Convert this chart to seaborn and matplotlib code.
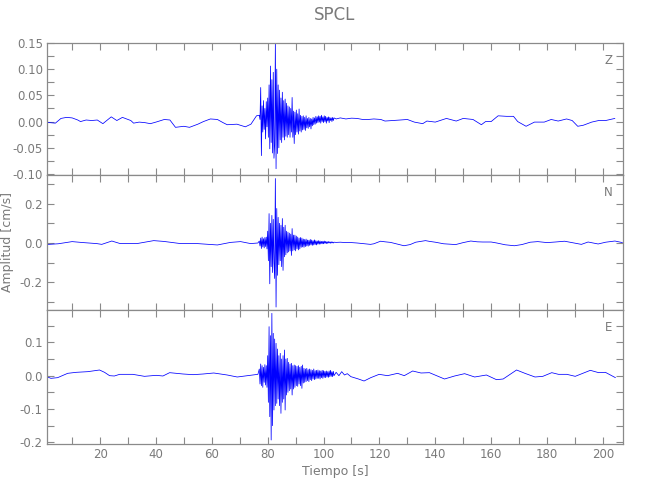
import numpy as np
import pandas as pd
import matplotlib
matplotlib.use("Agg")
import matplotlib.pyplot as plt
import seaborn as sns
from matplotlib.ticker import MultipleLocator, FixedLocator

# ---------------- data ----------------
station = "SPCL"
components = ["Z", "N", "E"]
x_label = "Tiempo [s]"
y_label = "Amplitud [cm/s]"

# strong-motion window sampled uniformly
strong_t0 = 77.0
strong_dt = 0.25

# --- Z component ---
z_pre_t = [0, 2, 4, 6, 8, 10, 12, 13, 15, 17, 19, 21, 24, 26, 28, 31, 32, 34, 36, 38, 40, 43, 45, 47, 50,
           52, 55, 57, 59.5, 62, 64, 65.5, 69, 72, 74, 76]
z_pre_v = [0.000, -0.002, -0.003, 0.006, 0.008, 0.007, 0.003, 0.000, 0.003, 0.002, 0.003, -0.004, 0.009,
           0.002, 0.008, 0.002, -0.003, -0.001, -0.002, -0.004, -0.001, 0.004, 0.003, -0.011, -0.009,
           -0.011, -0.005, 0.000, 0.005, 0.004, -0.002, -0.006, -0.005, -0.010, -0.005, 0.011]
z_strong = [0.012, 0.004, 0.065, -0.065, 0.030, -0.020, 0.040, -0.015, 0.025, -0.033, 0.038, -0.010,
            0.045, -0.030, 0.070, -0.052, 0.106, -0.040, 0.080, -0.060, 0.094, -0.070, -0.045, 0.150,
            -0.090, 0.100, -0.061, 0.070, -0.050, 0.060, -0.035, 0.045, -0.040, 0.056, -0.030, 0.040,
            -0.035, 0.043, -0.028, 0.035, -0.030, 0.030, -0.025, 0.028, -0.030, 0.025, -0.020, 0.046,
            -0.030, 0.020, -0.042, 0.018, -0.025, 0.022, -0.020, 0.015, -0.024, 0.024, -0.018, 0.012,
            -0.020, 0.010, -0.016, 0.011, -0.015, 0.008, -0.017, 0.011, -0.012, 0.006, -0.013, 0.008,
            -0.010, 0.006, -0.014, 0.005, -0.008, 0.008, -0.006, 0.007, -0.005, 0.010, -0.003, 0.009,
            -0.002, 0.011, -0.001, 0.010, -0.003, 0.012, 0.000, 0.009, -0.002, 0.011, 0.000, 0.010,
            -0.003, 0.008, 0.001, 0.009, -0.002, 0.008, 0.002, 0.007, 0.000, 0.008, 0.002, 0.007]
z_post_t = [104.5, 106, 108, 110, 112, 114, 116, 118, 120.5, 122, 125, 127.5, 130, 132.5, 135.5, 137, 140,
            144, 147.5, 150, 153.5, 156.5, 158, 160, 162.5, 165.5, 168, 169.5, 172.5, 175.5, 179, 181.5,
            184, 187, 189, 191, 193, 196, 198.5, 201, 204.3]
z_post_v = [0.005, 0.007, 0.005, 0.0065, 0.006, 0.004, 0.004, 0.005, 0.004, 0.001, 0.002, 0.003, 0.004,
            -0.001, -0.004, 0.001, -0.001, 0.006, 0.001, 0.006, 0.004, -0.006, 0.000, 0.000, 0.011, 0.010,
            0.010, 0.000, -0.009, -0.001, -0.001, 0.004, 0.001, 0.005, 0.002, -0.009, -0.007, -0.001,
            0.002, 0.002, 0.006]

# --- N component ---
n_pre_t = [0, 1.5, 5, 10, 14, 18.8, 20.6, 24.2, 27.2, 30, 33.2, 36, 39.2, 42.8, 46, 48.8, 54.8, 58, 62,
           66.7, 70.3, 73.9, 76.5]
n_pre_v = [-0.003, -0.007, -0.004, 0.007, 0.002, -0.003, -0.007, 0.010, -0.003, -0.002, -0.003, 0.004,
           0.012, 0.008, 0.002, -0.003, -0.003, -0.006, -0.010, 0.003, 0.007, -0.003, 0.000]
n_strong = [0.010, -0.015, 0.025, -0.028, 0.030, -0.020, 0.022, -0.025, 0.028, -0.018, 0.030, -0.030,
            0.060, -0.090, 0.149, -0.207, 0.100, -0.120, 0.140, -0.150, 0.120, -0.100, -0.180, 0.327,
            -0.325, 0.175, -0.164, 0.130, -0.110, 0.100, -0.090, 0.090, -0.120, 0.124, -0.139, 0.080,
            -0.070, 0.090, -0.060, 0.060, -0.050, 0.055, -0.045, 0.050, -0.040, 0.045, -0.063, 0.073,
            -0.040, 0.040, -0.035, 0.040, -0.040, 0.035, -0.030, 0.030, -0.035, 0.025, -0.030, 0.028,
            -0.022, 0.025, -0.020, 0.020, -0.022, 0.018, -0.018, 0.020, -0.015, 0.015, -0.016, 0.014,
            -0.012, 0.018, -0.010, 0.015, -0.012, 0.012, -0.010, 0.016, -0.008, 0.012, -0.010, 0.010,
            -0.006, 0.012, -0.006, 0.010, -0.005, 0.008, -0.004, 0.009, -0.004, 0.010, -0.002, 0.008,
            -0.003, 0.007, -0.002, 0.007, 0.000, 0.006, -0.001, 0.006, 0.000, 0.005, 0.000, 0.004]
n_post_t = [104.5, 106, 108, 110, 112, 114, 116.8, 118, 120.4, 122, 124, 126, 128.8, 131, 133, 136.5, 138,
            140, 143, 147.3, 150, 152.7, 155, 157, 160, 162, 165, 168.3, 171, 174, 176.7, 180, 183, 186.3,
            189, 192.3, 194.7, 198.3, 201, 204.3, 207]
n_post_v = [0.003, 0.004, 0.002, 0.002, 0.000, -0.003, -0.007, -0.004, 0.009, 0.006, 0.003, -0.004,
            -0.014, -0.008, 0.004, 0.012, 0.008, 0.004, -0.004, -0.008, 0.002, 0.010, 0.006, 0.005, 0.005,
            0.000, -0.009, -0.014, -0.008, 0.004, 0.007, 0.002, 0.005, 0.009, 0.002, -0.007, 0.005, -0.005,
            0.004, 0.010, 0.002]

# --- E component ---
e_pre_t = [0, 2.4, 4.8, 8.4, 11.4, 15.6, 19.8, 21.6, 23.4, 25.1, 27, 31.7, 35.9, 40.1, 42.5, 44.9, 49.7,
           53.3, 56.9, 60.7, 65.5, 69.1, 73.9, 76.5]
e_pre_v = [0.000, -0.008, -0.006, 0.007, 0.010, 0.012, 0.017, 0.010, 0.000, -0.001, 0.004, 0.004, -0.002,
           0.001, -0.001, 0.009, 0.005, 0.003, 0.005, 0.008, 0.002, -0.004, 0.001, 0.004]
e_strong = [0.020, -0.025, 0.035, -0.030, 0.030, -0.035, 0.025, -0.020, 0.033, -0.028, 0.030, -0.035,
            0.060, -0.080, 0.147, -0.123, 0.120, -0.193, 0.187, -0.150, 0.127, -0.103, 0.110, -0.090,
            0.097, -0.083, 0.080, -0.070, 0.060, -0.090, 0.067, -0.113, 0.050, -0.080, 0.060, -0.070,
            0.077, -0.103, 0.050, -0.058, 0.052, -0.050, 0.040, -0.045, 0.035, -0.040, 0.037, -0.058,
            0.030, -0.040, 0.032, -0.035, 0.030, -0.030, 0.028, -0.032, 0.030, -0.025, 0.025, -0.030,
            0.028, -0.038, 0.032, -0.022, 0.022, -0.020, 0.020, -0.018, 0.022, -0.015, 0.018, -0.018,
            0.020, -0.012, 0.018, -0.015, 0.016, -0.010, 0.020, -0.012, 0.015, -0.010, 0.016, -0.008,
            0.017, -0.008, 0.015, -0.010, 0.014, -0.006, 0.016, -0.008, 0.015, -0.005, 0.013, -0.006,
            0.014, -0.004, 0.012, -0.005, 0.014, -0.003, 0.016, -0.002, 0.012, -0.003, 0.013, 0.000]
e_post_t = [104.5, 105.5, 106.5, 107.5, 108.5, 109.8, 111, 112.5, 114.5, 116.9, 119.9, 122.9, 126.5, 128.9,
            131.9, 134.9, 137.9, 140.5, 143.3, 146.9, 150.5, 154.1, 158.3, 161.9, 164.3, 169.1, 172.1,
            175.7, 178.5, 181.7, 184.1, 187.1, 190.1, 195.5, 198.5, 200.9, 204.5]
e_post_v = [0.010, 0.000, 0.012, 0.002, 0.006, -0.003, -0.006, -0.010, -0.016, -0.006, 0.004, 0.000, 0.007,
            0.000, 0.014, 0.008, 0.009, 0.000, -0.010, -0.001, 0.006, -0.004, 0.002, -0.012, -0.010, 0.017,
            0.007, -0.004, -0.002, 0.009, 0.004, 0.004, -0.002, 0.016, 0.009, 0.010, -0.006]

y_limits = {"Z": (-0.102, 0.150), "N": (-0.340, 0.345), "E": (-0.205, 0.197)}
y_major = {"Z": 0.05, "N": 0.2, "E": 0.1}
y_minor = {"Z": 0.025, "N": 0.1, "E": 0.05}
y_fmt = {"Z": "%.2f", "N": "%.1f", "E": "%.1f"}


def build(comp, pre_t, pre_v, strong, post_t, post_v):
    st = [strong_t0 + strong_dt * i for i in range(len(strong))]
    t = list(pre_t) + st + list(post_t)
    v = list(pre_v) + list(strong) + list(post_v)
    return pd.DataFrame({"t": t, "v": v, "comp": comp})


df = pd.concat([
    build("Z", z_pre_t, z_pre_v, z_strong, z_post_t, z_post_v),
    build("N", n_pre_t, n_pre_v, n_strong, n_post_t, n_post_v),
    build("E", e_pre_t, e_pre_v, e_strong, e_post_t, e_post_v),
], ignore_index=True)

# ---------------- plotting ----------------
sns.set_theme(style="white")
plt.rcParams["font.family"] = ["DejaVu Sans"]
gray = "#8a8a8a"
tgray = "#7a7a7a"

fig = plt.figure(figsize=(6.5, 5.0), dpi=100)
W, H = 650.0, 500.0
left, right = 47 / W, 623 / W
bounds = {"Z": (43, 175), "N": (175, 310), "E": (310, 444)}

for comp in components:
    top_px, bot_px = bounds[comp]
    ax = fig.add_axes([left, 1 - bot_px / H, right - left, (bot_px - top_px) / H])
    sub = df[df["comp"] == comp]
    sns.lineplot(data=sub, x="t", y="v", ax=ax, sort=False, estimator=None,
                 color="#0000ff", linewidth=0.55)
    ax.set_xlim(1.0, 207.2)
    ax.set_ylim(*y_limits[comp])
    ax.xaxis.set_major_locator(FixedLocator(list(range(20, 201, 20))))
    ax.xaxis.set_minor_locator(FixedLocator(list(range(10, 201, 20))))
    ax.yaxis.set_major_locator(MultipleLocator(y_major[comp]))
    ax.yaxis.set_minor_locator(MultipleLocator(y_minor[comp]))
    ax.yaxis.set_major_formatter(matplotlib.ticker.FormatStrFormatter(y_fmt[comp]))
    ax.tick_params(which="both", direction="in", length=5, width=0.8, color=gray,
                   top=True, right=True, bottom=True, left=True,
                   labelsize=8.5, labelcolor=tgray, pad=3)
    for s in ax.spines.values():
        s.set_color(gray)
        s.set_linewidth(0.9)
    ax.set_xlabel("")
    ax.set_ylabel("")
    if comp != "E":
        ax.tick_params(labelbottom=False)
    ax.text(0.975, 0.87, comp, transform=ax.transAxes, ha="center", va="center",
            fontsize=8.5, color=tgray)
    if comp == "E":
        ax.set_xlabel(x_label, fontsize=9, color=tgray, labelpad=3)
    if comp == "N":
        ax.set_ylabel(y_label, fontsize=9, color=tgray, labelpad=4)

fig.text((47 + 623) / 2 / W, 1 - 15 / H, station, ha="center", va="center",
         fontsize=12, color=tgray)

fig.savefig("out.png", dpi=100, facecolor="white")
